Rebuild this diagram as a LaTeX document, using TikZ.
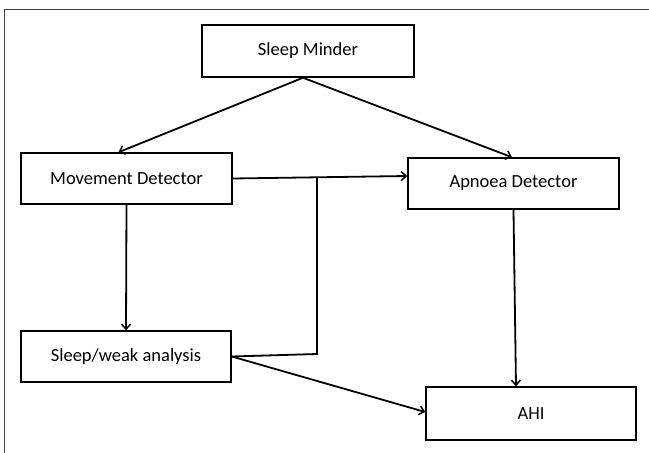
\documentclass[tikz,border=0pt]{standalone}
\usepackage{fontspec}
\setmainfont{Carlito}
\usetikzlibrary{arrows.meta}
\begin{document}
\begin{tikzpicture}[x=1pt,y=-1pt,
  box/.style={draw=black, line width=1.5pt, fill=white, inner sep=0pt,
    font=\fontsize{18.5}{22}\selectfont},
  conn/.style={line width=1.8pt, draw=black},
  arr/.style={conn, -{Straight Barb[length=5pt,width=9pt,line width=1.5pt]}},
  frameline/.style={draw=black!75, line width=0.8pt}]
\useasboundingbox (0,0) rectangle (649,453);
\draw[frameline] (4,453) -- (4,9) -- (649,9);
\node[box, minimum width=212pt, minimum height=52pt] (sm) at (308,51) {Sleep Minder};
\node[box, minimum width=211pt, minimum height=51pt] (md) at (126.5,178.5) {Movement Detector};
\node[box, minimum width=211pt, minimum height=51pt] (ad) at (513.5,183.5) {Apnoea Detector};
\node[box, minimum width=210pt, minimum height=51pt] (sw) at (126,356.5) {Sleep/weak analysis};
\node[box, minimum width=210pt, minimum height=53pt] (ahi) at (531,413.5) {AHI};
\coordinate (apex) at ([xshift=-5pt]sm.south);
\coordinate (j) at (317,177);
\coordinate (k) at (317,354);
\draw[arr] (apex) -- ([xshift=-8pt]md.north);
\draw[arr] (apex) -- ([xshift=-1.5pt]ad.north);
\draw[arr] (md.east) -- ([yshift=7.5pt]ad.west);
\draw[arr] (md.south) -- (sw.north);
\draw[conn] (sw.east) -- (k) -- (j);
\draw[arr] (sw.east) -- ([yshift=1.5pt]ahi.west);
\draw[arr] (ad.south) -- ([xshift=-15pt]ahi.north);
\end{tikzpicture}
\end{document}
